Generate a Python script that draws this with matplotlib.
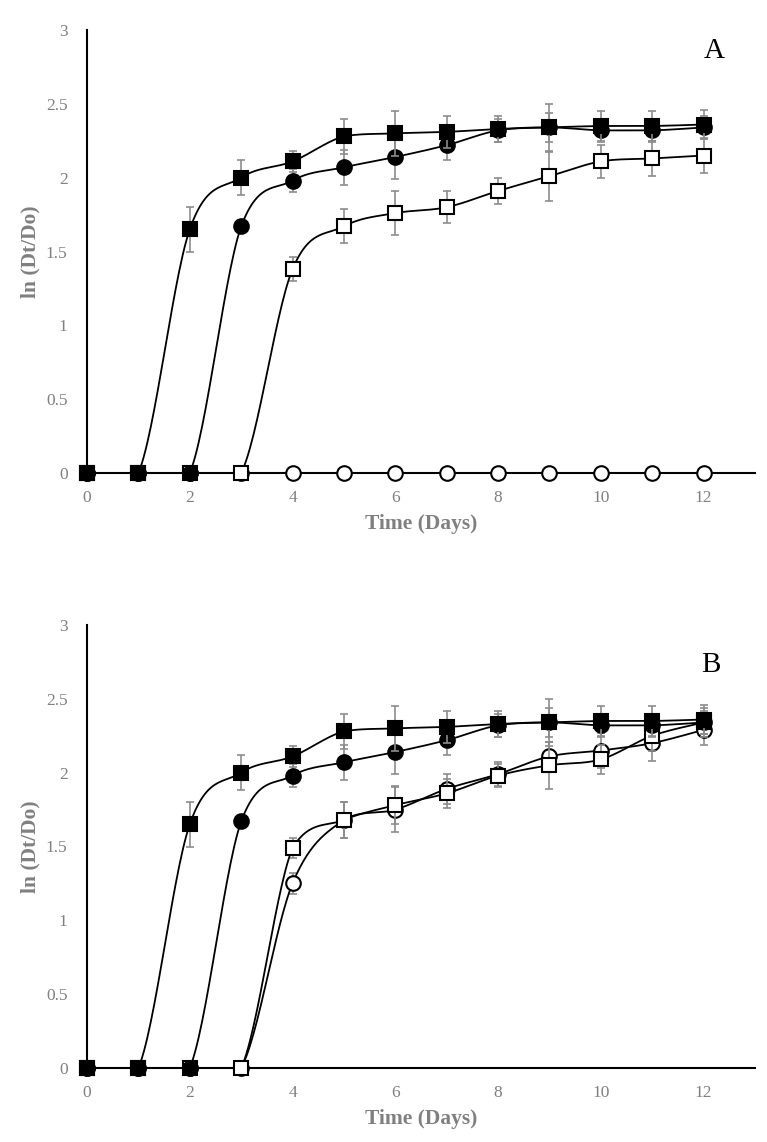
import numpy as np
import matplotlib
matplotlib.use("Agg")
import matplotlib.pyplot as plt

days = list(range(13))

# Panel A
a_fsq = [0, 0, 1.65, 2.00, 2.11, 2.28, 2.30, 2.31, 2.33, 2.34, 2.35, 2.35, 2.36]
a_fsq_err = [0, 0, 0.15, 0.12, 0.07, 0.12, 0.15, 0.11, 0.09, 0.16, 0.10, 0.10, 0.10]
a_fci = [0, 0, 0, 1.67, 1.98, 2.07, 2.14, 2.22, 2.32, 2.34, 2.32, 2.32, 2.34]
a_fci_err = [0, 0, 0, 0.04, 0.08, 0.12, 0.15, 0.10, 0.08, 0.10, 0.08, 0.08, 0.08]
a_osq = [0, 0, 0, 0, 1.38, 1.67, 1.76, 1.80, 1.91, 2.01, 2.11, 2.13, 2.15]
a_osq_err = [0, 0, 0, 0, 0.08, 0.115, 0.15, 0.11, 0.09, 0.165, 0.11, 0.12, 0.12]
a_oci = [0, 0, 0, 0, 0, 0, 0, 0, 0, 0, 0, 0, 0]
a_oci_err = [0] * 13

# Panel B
b_fsq = [0, 0, 1.65, 2.00, 2.11, 2.28, 2.30, 2.31, 2.33, 2.34, 2.35, 2.35, 2.36]
b_fsq_err = [0, 0, 0.15, 0.12, 0.07, 0.12, 0.15, 0.11, 0.09, 0.16, 0.10, 0.10, 0.10]
b_fci = [0, 0, 0, 1.67, 1.98, 2.07, 2.14, 2.22, 2.32, 2.34, 2.32, 2.32, 2.34]
b_fci_err = [0, 0, 0, 0.04, 0.08, 0.12, 0.15, 0.10, 0.08, 0.10, 0.08, 0.08, 0.08]
b_osq = [0, 0, 0, 0, 1.49, 1.68, 1.78, 1.86, 1.98, 2.05, 2.09, 2.25, 2.34]
b_osq_err = [0, 0, 0, 0, 0.07, 0.12, 0.13, 0.10, 0.08, 0.16, 0.10, 0.10, 0.10]
b_oci = [0, 0, 0, 0, 1.25, 1.68, 1.75, 1.89, 1.99, 2.11, 2.15, 2.20, 2.29]
b_oci_err = [0, 0, 0, 0, 0.07, 0.12, 0.15, 0.10, 0.08, 0.10, 0.12, 0.12, 0.10]

y_ticks = [0, 0.5, 1, 1.5, 2, 2.5, 3]
y_tick_labels = ["0", "0.5", "1", "1.5", "2", "2.5", "3"]
x_ticks = [0, 2, 4, 6, 8, 10, 12]

plt.rcParams['font.family'] = ['Liberation Serif', 'DejaVu Serif']
GREY = '#808080'
ERR = '#8c8c8c'


def smooth(x, y, n=30):
    """Excel-like smoothed line (Bezier with control points kept within segment range)."""
    P = np.column_stack([np.asarray(x, float), np.asarray(y, float)])
    Pp = np.vstack([P[0], P, P[-1]])
    out = []
    t = np.linspace(0, 1, n)[:, None]
    for i in range(len(P) - 1):
        p0, p1, p2, p3 = Pp[i], Pp[i + 1], Pp[i + 2], Pp[i + 3]
        c1 = p1 + (p2 - p0) / 6.0
        c2 = p2 - (p3 - p1) / 6.0
        lo, hi = min(p1[1], p2[1]), max(p1[1], p2[1])
        c1[1] = np.clip(c1[1], lo, hi)
        c2[1] = np.clip(c2[1], lo, hi)
        seg = ((1 - t) ** 3) * p1 + 3 * ((1 - t) ** 2) * t * c1 + 3 * (1 - t) * t ** 2 * c2 + t ** 3 * p2
        out.append(seg if i == 0 else seg[1:])
    out = np.vstack(out)
    return out[:, 0], out[:, 1]


def series(ax, y, err, marker, filled, z):
    sx, sy = smooth(days, y)
    ax.plot(sx, sy, color='black', lw=1.3, zorder=z, clip_on=False)
    e = np.array(err, float)
    mask = e > 0
    if mask.any():
        ax.errorbar(np.array(days)[mask], np.array(y)[mask], yerr=e[mask], fmt='none',
                    ecolor=ERR, elinewidth=1.2, capsize=3, capthick=1.2, zorder=z - 1)
    ax.plot(days, y, linestyle='none', marker=marker, ms=10 if marker == 's' else 10.5,
            mfc='black' if filled else 'white', mec='black', mew=1.5, zorder=z + 1, clip_on=False)


def setup(ax):
    ax.set_xlim(0, 13)
    ax.set_ylim(0, 3)
    for s in ['top', 'right']:
        ax.spines[s].set_visible(False)
    ax.spines['left'].set_linewidth(1.5)
    ax.spines['bottom'].set_linewidth(1.5)
    ax.set_yticks(y_ticks)
    ax.set_yticklabels(y_tick_labels)
    ax.set_xticks(x_ticks)
    ax.tick_params(axis='y', length=0, labelsize=12.5, colors=GREY, pad=14)
    ax.tick_params(axis='x', length=0, labelsize=12.5, colors=GREY, pad=12)
    ax.set_xlabel('Time (Days)', fontsize=15.5, fontweight='bold', color=GREY, labelpad=6)
    ax.set_ylabel('ln (Dt/Do)', fontsize=15.5, fontweight='bold', color=GREY, labelpad=4)


fig = plt.figure(figsize=(7.67, 11.42), dpi=100)
axA = fig.add_axes([87 / 767, 1 - 473 / 1142, (755 - 87) / 767, 443 / 1142])
axB = fig.add_axes([87 / 767, 1 - 1068 / 1142, (755 - 87) / 767, 443 / 1142])

series(axA, a_oci, a_oci_err, 'o', False, 4)
series(axA, a_osq, a_osq_err, 's', False, 7)
series(axA, a_fci, a_fci_err, 'o', True, 10)
series(axA, a_fsq, a_fsq_err, 's', True, 13)
setup(axA)
axA.text(12.2, 2.86, 'A', fontsize=21, ha='center', va='center', color='black')

series(axB, b_oci, b_oci_err, 'o', False, 4)
series(axB, b_osq, b_osq_err, 's', False, 7)
series(axB, b_fci, b_fci_err, 'o', True, 10)
series(axB, b_fsq, b_fsq_err, 's', True, 13)
setup(axB)
axB.text(12.15, 2.73, 'B', fontsize=21, ha='center', va='center', color='black')

fig.savefig('out.png', dpi=100)
